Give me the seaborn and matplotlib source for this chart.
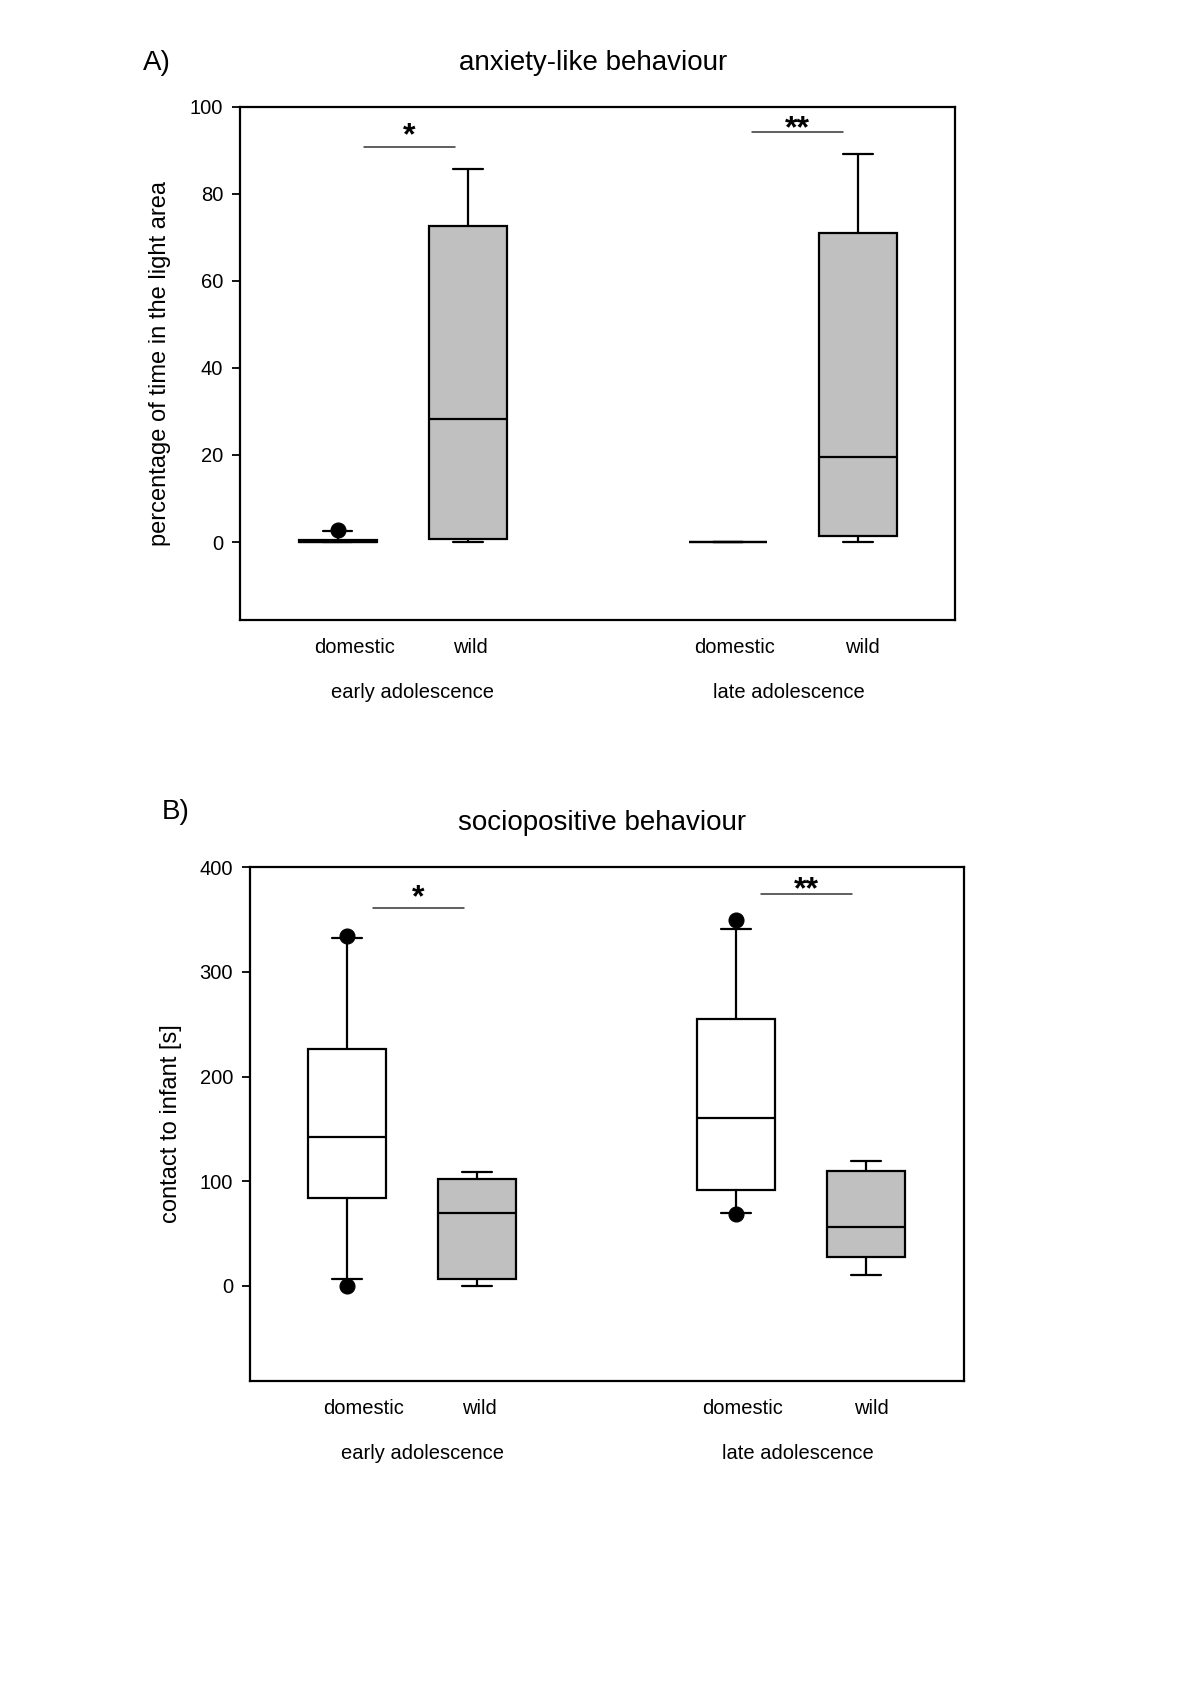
import numpy as np
import pandas as pd
import seaborn as sns
import matplotlib.pyplot as plt
import matplotlib.transforms as mtrans

sns.set_style('white')
plt.rcParams['font.family'] = ['Liberation Sans', 'DejaVu Sans']
plt.rcParams['text.color'] = 'black'
plt.rcParams['ytick.color'] = 'black'
plt.rcParams['axes.labelcolor'] = 'black'

# %% data
positions = [0, 1, 3, 4]
labels = ['domestic', 'wild', 'domestic', 'wild']
groups = ['early adolescence', 'late adolescence']
fills = ['white', '#c0c0c0', 'white', '#c0c0c0']

# A) anxiety-like behaviour, % time in light area
a_med = [0, 28.3, 0, 19.6]
a_q1 = [0, 0.7, 0, 1.4]
a_q3 = [0.5, 72.5, 0, 70.9]
a_wlo = [0, 0, 0, 0]
a_whi = [2.5, 85.6, 0, 89.1]
a_out = [[2.7], [], [], []]

# B) sociopositive behaviour, contact to infant [s]
b_med = [142.5, 69.5, 160.2, 56.3]
b_q1 = [83.5, 6.8, 91.7, 27.3]
b_q3 = [226.4, 102, 255.4, 110]
b_wlo = [6.8, 0, 69.2, 10.2]
b_whi = [332, 109, 341, 119]
b_out = [[334, 0], [], [350, 68.5], []]

# significance bars: (x0, x1, y, text)
a_sig = [(0.2, 0.9, 90.8, '*'), (3.19, 3.89, 94.1, '**')]
b_sig = [(0.2, 0.9, 360.7, '*'), (3.19, 3.89, 374.7, '**')]


def make_stats(med, q1, q3, wlo, whi):
    return [dict(med=m, q1=a, q3=b, whislo=lo, whishi=hi, fliers=[])
            for m, a, b, lo, hi in zip(med, q1, q3, wlo, whi)]


def draw_panel(ax, stats, out, sig, ylim, yticks):
    bp = ax.bxp(stats, positions=positions, widths=0.6, patch_artist=True,
                showfliers=False, manage_ticks=False, capwidths=0.23,
                boxprops=dict(linewidth=1.6, edgecolor='black'),
                medianprops=dict(color='black', linewidth=1.6),
                whiskerprops=dict(color='black', linewidth=1.6),
                capprops=dict(color='black', linewidth=1.6))
    for patch, c in zip(bp['boxes'], fills):
        patch.set_facecolor(c)

    # outliers
    ox = [p for p, o in zip(positions, out) for _ in o]
    oy = [v for o in out for v in o]
    if ox:
        sns.scatterplot(x=ox, y=oy, ax=ax, color='black', s=115,
                        edgecolor='black', legend=False, zorder=5)

    for x0, x1, y, t in sig:
        ax.plot([x0, x1], [y, y], color='#333333', lw=1.1)
        dy = 1.5 if t == '*' else -3.5
        ax.annotate(t, xy=((x0 + x1) / 2, y), xytext=(0, dy),
                    textcoords='offset points', ha='center', va='baseline',
                    fontsize=23, fontweight='bold')

    ax.set_xlim(-0.75, 4.75)
    ax.set_ylim(*ylim)
    ax.set_yticks(yticks)
    ax.tick_params(axis='y', direction='out', length=6, width=1.3,
                   labelsize=14.5, pad=6, left=True)
    ax.tick_params(axis='x', bottom=False, labelbottom=False)
    for s in ax.spines.values():
        s.set_visible(True)
        s.set_color('black')
        s.set_linewidth(1.6)

    trans = mtrans.blended_transform_factory(ax.transData, ax.transAxes)
    lab_x = [0.13, 1.02, 3.05, 4.04]
    for x, t in zip(lab_x, labels):
        ax.text(x, -0.053, t, transform=trans, ha='center', va='center',
                fontsize=14.5)
    for x, t in zip([0.58, 3.47], groups):
        ax.text(x, -0.141, t, transform=trans, ha='center', va='center',
                fontsize=14.5)


fig = plt.figure(figsize=(12, 16.95), dpi=100)

axA = fig.add_axes([0.2, 0.634, 0.596, 0.303])
draw_panel(axA, make_stats(a_med, a_q1, a_q3, a_wlo, a_whi), a_out, a_sig,
           (-18, 100), [0, 20, 40, 60, 80, 100])
axB = fig.add_axes([0.208, 0.1853, 0.595, 0.303])
draw_panel(axB, make_stats(b_med, b_q1, b_q3, b_wlo, b_whi), b_out, b_sig,
           (-91, 400), [0, 100, 200, 300, 400])

fig.text(0.1333, 0.7858, 'percentage of time in the light area', rotation=90,
         ha='center', va='center', fontsize=17)
fig.text(0.1425, 0.3369, 'contact to infant [s]', rotation=90,
         ha='center', va='center', fontsize=17)

fig.text(0.131, 0.963, 'A)', ha='center', va='center', fontsize=20)
fig.text(0.4946, 0.963, 'anxiety-like behaviour', ha='center', va='center',
         fontsize=20)
fig.text(0.1467, 0.5208, 'B)', ha='center', va='center', fontsize=20)
fig.text(0.5017, 0.5146, 'sociopositive behaviour', ha='center', va='center',
         fontsize=20)

fig.savefig('out.png', dpi=100, facecolor='white')
